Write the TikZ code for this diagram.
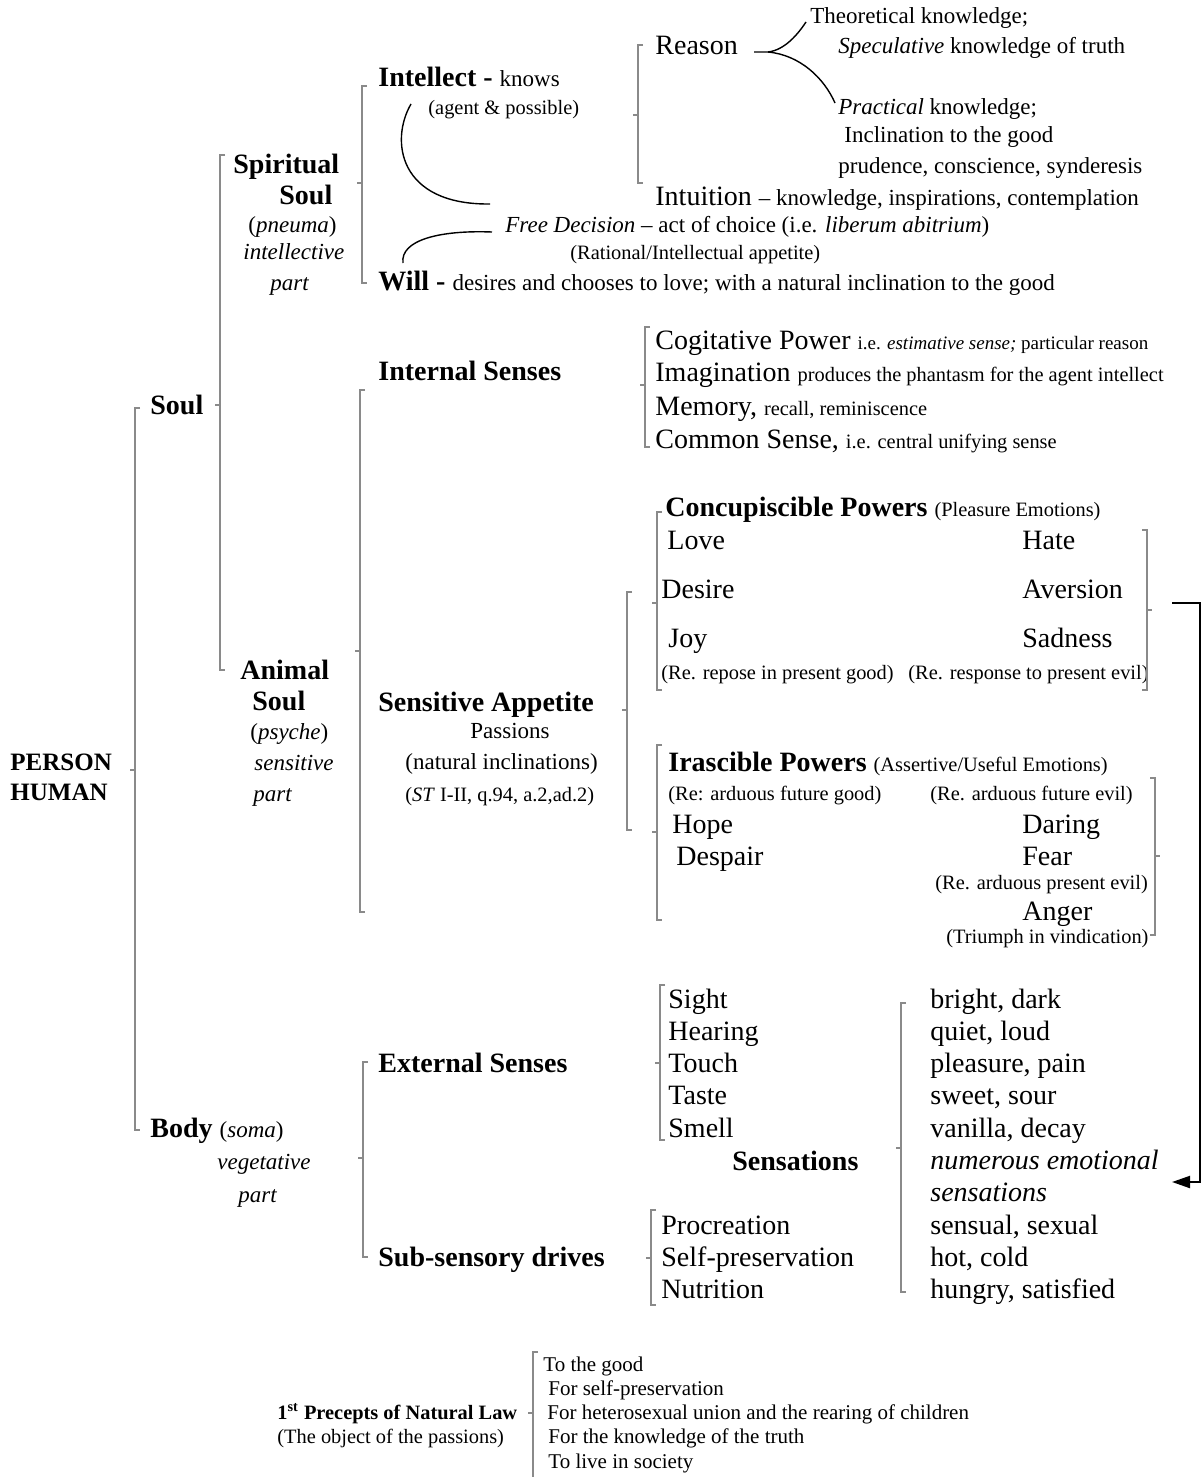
\documentclass[tikz,border=0pt]{standalone}
\usepackage{fontspec}
\setmainfont{Liberation Serif}
\usetikzlibrary{arrows.meta}
\newcommand{\szL}{\fontsize{14}{16}\selectfont}
\newcommand{\szM}{\fontsize{11.5}{13}\selectfont}
\newcommand{\szS}{\fontsize{10.2}{12}\selectfont}
\newcommand{\szP}{\fontsize{12.5}{14}\selectfont}
\definecolor{brkgray}{HTML}{8A8A8A}

\begin{document}
\begin{tikzpicture}[x=0.5pt, y=-0.5pt,
  lbl/.style={anchor=base west, inner sep=0pt, font=\szL},
  med/.style={anchor=base west, inner sep=0pt, font=\szM},
  sml/.style={anchor=base west, inner sep=0pt, font=\szS},
  brk/.style={brkgray, line width=0.65pt},
  link/.style={black, line width=0.7pt}]
\useasboundingbox (0,0) rectangle (1203,1477);

% Root, soul and body
\node[lbl, font=\szP\bfseries] (person) at (10,770) {PERSON};
\node[lbl, font=\szP\bfseries] (human) at (10,800) {HUMAN};
\node[lbl, font=\szL\bfseries] (soul) at (150,414) {Soul};
\node[lbl, font=\szL\bfseries] (body) at (150,1137) {Body {\szM\mdseries(\textit{soma})}};
\node[med, font=\szM\itshape] (vegetative) at (217,1169) {vegetative};
\node[med, font=\szM\itshape] (bodypart) at (238,1202) {part};

% Spiritual soul
\node[lbl, font=\szL\bfseries] (spirit) at (233,173) {Spiritual};
\node[lbl, font=\szL\bfseries] (spiritsoul) at (279,204) {Soul};
\node[med] (pneuma) at (248,232) {(\textit{pneuma})};
\node[med, font=\szM\itshape] (intellective) at (243,259) {intellective};
\node[med, font=\szM\itshape] (spiritpart) at (270,290) {part};

% Animal soul
\node[lbl, font=\szL\bfseries] (animal) at (240,679) {Animal};
\node[lbl, font=\szL\bfseries] (animalsoul) at (252,710) {Soul};
\node[med] (psyche) at (250,739) {(\textit{psyche})};
\node[med, font=\szM\itshape] (sensitive) at (254,770) {sensitive};
\node[med, font=\szM\itshape] (animalpart) at (253,801) {part};

% Intellect and will
\node[lbl] (intel) at (378,87) {\textbf{Intellect -} {\szM knows}};
\node[sml] (agent) at (428,114) {(agent \& possible)};
\node[med] (free) at (505,232) {\textit{Free Decision} \textendash{} act of choice (i.e. \textit{liberum abitrium})};
\node[sml] (rational) at (570,259) {(Rational/Intellectual appetite)};
\node[lbl] (will) at (378,290) {\textbf{Will -} {\szM desires and chooses to love; with a natural inclination to the good}};

% Reason and intuition
\node[lbl] (reason) at (655,55) {Reason};
\node[med] (theo) at (810,24) {Theoretical knowledge;};
\node[med] (spec) at (838,54) {\textit{Speculative} knowledge of truth};
\node[med] (prac) at (838,114) {\textit{Practical} knowledge;};
\node[med] (incl) at (844,142) {Inclination to the good};
\node[med] (prud) at (838,173) {prudence, conscience, synderesis};
\node[lbl] (intu) at (655,205) {Intuition {\szM\textendash{} knowledge, inspirations, contemplation}};

% Internal senses
\node[lbl, font=\szL\bfseries] (internal) at (378,380) {Internal Senses};
\node[lbl] (cogit) at (655,349) {Cogitative Power {\fontsize{9.5}{11}\selectfont i.e. \textit{estimative sense;} particular reason}};
\node[lbl] (imag) at (655,381) {Imagination {\szS produces the phantasm for the agent intellect}};
\node[lbl] (memo) at (655,415) {Memory, {\szS recall, reminiscence}};
\node[lbl] (common) at (655,448) {Common Sense, {\szS i.e. central unifying sense}};

% Sensitive appetite
\node[lbl, font=\szL\bfseries] (appetite) at (378,711) {Sensitive Appetite};
\node[med] (passions) at (470,738) {Passions};
\node[med] (natincl) at (405,769) {(natural inclinations)};
\node[sml] (stref) at (405,801) {(\textit{ST} I-II, q.94, a.2,ad.2)};

% Concupiscible powers
\node[lbl] (concup) at (665,516) {\textbf{Concupiscible Powers} {\szS(Pleasure Emotions)}};
\foreach \n/\t/\x/\y in {love/Love/667/549, hate/Hate/1022/549, desire/Desire/661/598,
    aversion/Aversion/1022/598, joy/Joy/668/647, sadness/Sadness/1022/647}
  \node[lbl] (\n) at (\x,\y) {\t};
\node[sml] (repose) at (661,679) {(Re. repose in present good)};
\node[sml] (response) at (908,679) {(Re. response to present evil)};

% Irascible powers
\node[lbl] (irasc) at (668,771) {\textbf{Irascible Powers} {\szS(Assertive/Useful Emotions)}};
\node[sml] (fgood) at (668,800) {(Re: arduous future good)};
\node[sml] (fevil) at (930,800) {(Re. arduous future evil)};
\foreach \n/\t/\x/\y in {hope/Hope/672/833, daring/Daring/1022/833, despair/Despair/676/865,
    fear/Fear/1022/865, anger/Anger/1022/920}
  \node[lbl] (\n) at (\x,\y) {\t};
\node[sml] (pevil) at (935,889) {(Re. arduous present evil)};
\node[sml] (triumph) at (946,943) {(Triumph in vindication)};

% External senses and drives
\node[lbl, font=\szL\bfseries] (external) at (378,1072) {External Senses};
\node[lbl, font=\szL\bfseries] (drives) at (378,1266) {Sub-sensory drives};
\foreach \t [count=\i] in {Sight,Hearing,Touch,Taste,Smell}
  \node[lbl] (sense\i) at (668,975.7+\i*32.3) {\t};
\node[lbl, font=\szL\bfseries] (sensations) at (732,1170) {Sensations};
\foreach \t [count=\i] in {Procreation,Self-preservation,Nutrition}
  \node[lbl] (drive\i) at (661,1201.8+\i*32.3) {\t};
\foreach \t [count=\i] in {{bright, dark},{quiet, loud},{pleasure, pain},{sweet, sour},
    {vanilla, decay},{\textit{numerous emotional}},{\textit{sensations}},{sensual, sexual},
    {hot, cold},{hungry, satisfied}}
  \node[lbl] (feel\i) at (930,975.7+\i*32.3) {\t};

% Precepts of natural law
\node[sml, font=\szS\bfseries] (precepts) at (277,1419) {1\textsuperscript{st} Precepts of Natural Law};
\node[sml] (object) at (277,1443) {(The object of the passions)};
\foreach \t/\x/\y [count=\i] in {To the good/543/1371, For self-preservation/548/1395,
    For heterosexual union and the rearing of children/547/1419,
    For the knowledge of the truth/548/1443, To live in society/548/1468}
  \node[sml, font=\fontsize{10.5}{12}\selectfont] (prec\i) at (\x,\y) {\t};

% Left brackets: x / top / bottom / middle tick
\foreach \x/\t/\b/\m in {135/408/1130/770, 220/155/670/405, 362/86/283/183, 638/45/183/115,
    360/390/912/651, 645/327/447/385, 627/592/830/710, 657/512/690/603, 657/745/920/832,
    660/985/1140/1063, 901/1003/1292/1148, 651/1210/1305/1258, 363/1062/1257/1158,
    533/1352/1480/1413}
  \draw[brk] (\x+5,\t) -- (\x,\t) -- (\x,\b) -- (\x+5,\b) (\x,\m) -- (\x-5,\m);

% Right brackets
\foreach \x/\t/\b/\m in {1147/530/690/610, 1155/778/935/856}
  \draw[brk] (\x-5,\t) -- (\x,\t) -- (\x,\b) -- (\x-5,\b) (\x,\m) -- (\x+5,\m);

% Reason splits into theoretical and practical
\coordinate (rsIn) at (754,52);
\coordinate (rsTip) at (768,52);
\coordinate (rsUp) at (806,22);
\coordinate (rsDown) at (835,103);
\draw[link] (rsIn) -- (rsTip) .. controls (785,50) and (798,34) .. (rsUp);
\draw[link] (rsTip) .. controls (800,55) and (824,78) .. (rsDown);

% Intellect and will meet in free decision
\coordinate (intA) at (411,104);
\coordinate (intB) at (490,204);
\draw[link] (intA) .. controls (390,140) and (398,205) .. (intB);
\coordinate (willA) at (492,232);
\coordinate (willB) at (403,263);
\draw[link] (willA) .. controls (440,230) and (400,240) .. (willB);

% Emotions feed the sensations
\coordinate (emoOut) at (1172,603);
\coordinate (emoIn) at (1172,1182);
\draw[line width=1pt, -{Triangle[length=9pt,width=6pt]}] (emoOut) -- ++(28,0) |- (emoIn);

\end{tikzpicture}
\end{document}
